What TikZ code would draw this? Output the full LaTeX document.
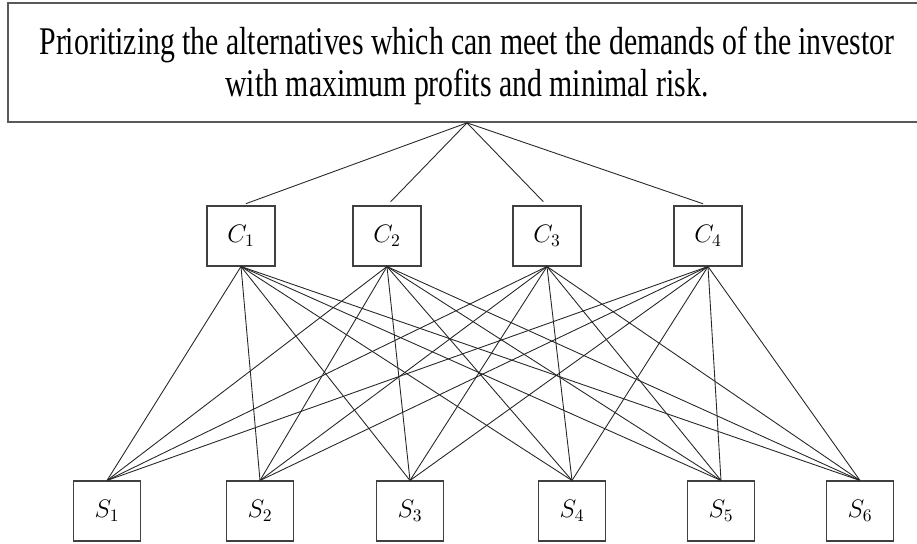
\documentclass[tikz,border=0pt]{standalone}
\usepackage{fontspec}
\usepackage{amsmath}
\setmainfont{Liberation Serif}
\newfontfamily\goalfont[FakeStretch=0.76]{Liberation Serif}
\usetikzlibrary{positioning}

\begin{document}
\begin{tikzpicture}[x=0.02cm,y=-0.02cm,
    goal/.style={draw=black!65,line width=1pt,minimum width=18.36cm,minimum height=2.38cm,align=center,font=\goalfont\fontsize{22.3}{24.4}\selectfont},
    crit/.style={draw=black!75,line width=0.6pt,minimum width=1.36cm,minimum height=1.2cm,font=\Large},
    alt/.style={crit,minimum width=1.34cm},
    l/.style={line width=0.5pt,draw=black!85}]
    \useasboundingbox (0,0) rectangle (917,544);
    \node[goal] (goal) at (467,62.5) {\rule{0pt}{19.6pt}Prioritizing the alternatives which can meet the demands of the investor\\with maximum profits and minimal risk.\rule[-4.8pt]{0pt}{4.8pt}};
    \node[crit] (c1) at (241,236) {$C_1$};
    \node[crit] (c2) at (387,236) {$C_2$};
    \node[crit] (c3) at (547,236) {$C_3$};
    \node[crit] (c4) at (708,236) {$C_4$};
    \node[alt] (s1) at (107,511) {$S_1$};
    \node[alt] (s2) at (260,511) {$S_2$};
    \node[alt] (s3) at (410,511) {$S_3$};
    \node[alt] (s4) at (572,511) {$S_4$};
    \node[alt] (s5) at (721,511) {$S_5$};
    \node[alt] (s6) at (860,511) {$S_6$};
    \foreach \c in {1,...,4} \draw[l,shorten >=3pt] (goal.south) -- (c\c.north);
    \foreach \c in {1,...,4} \foreach \s in {1,...,6} \draw[l] (c\c.south) -- (s\s.north);
\end{tikzpicture}
\end{document}
